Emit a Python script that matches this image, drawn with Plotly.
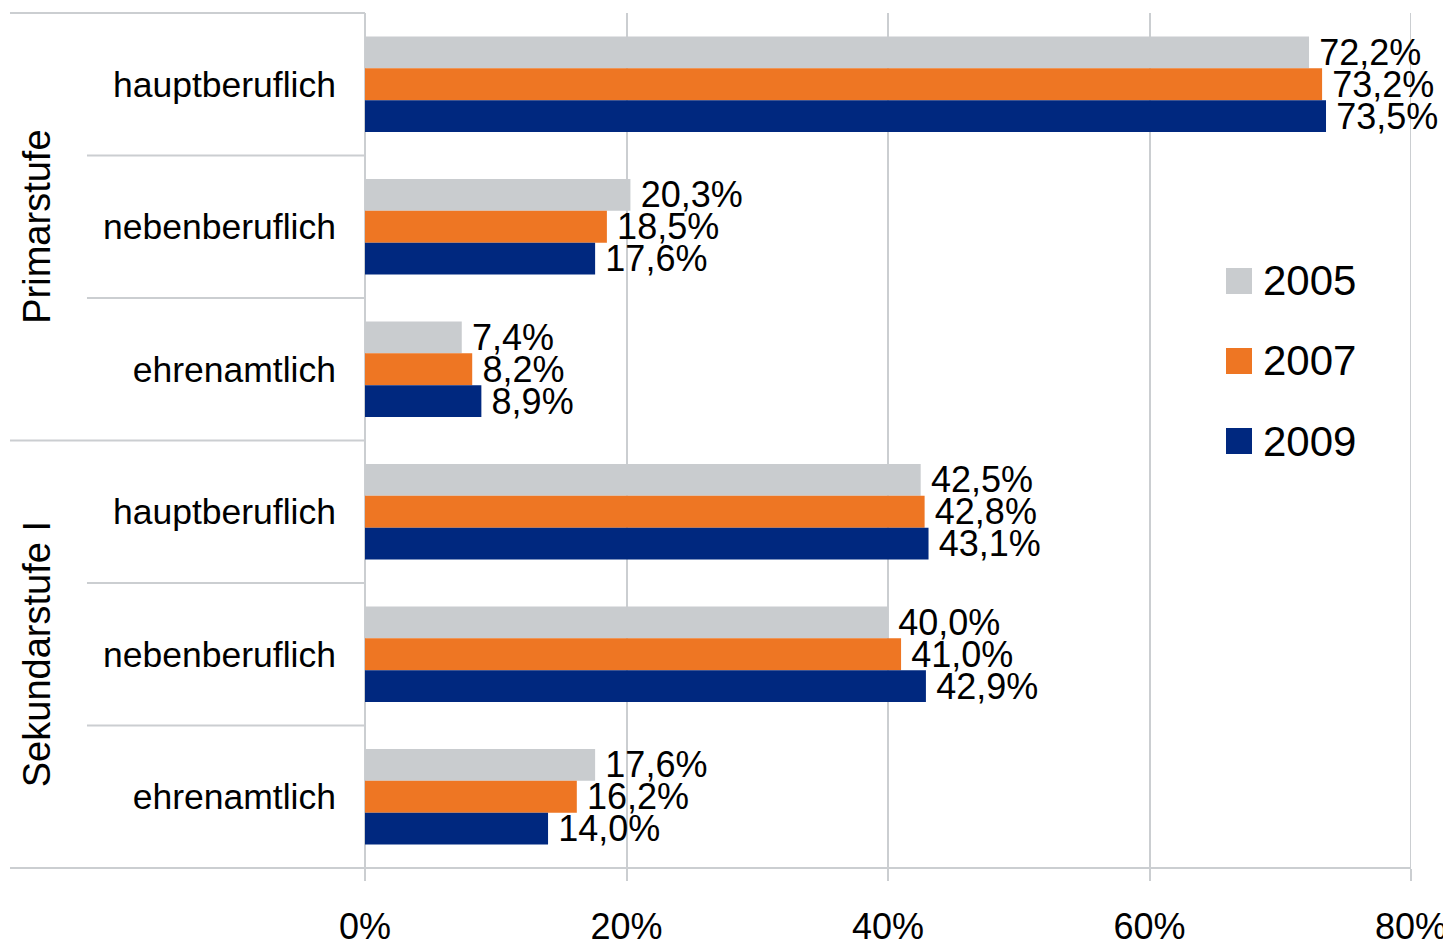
import plotly.graph_objects as go

groups = ["Primarstufe", "Sekundarstufe I"]
subcats = ["hauptberuflich", "nebenberuflich", "ehrenamtlich"]
series_names = ["2005", "2007", "2009"]
colors = ["#C9CCCF", "#EE7623", "#00287F"]
v2005 = [72.2, 20.3, 7.4, 42.5, 40.0, 17.6]
v2007 = [73.2, 18.5, 8.2, 42.8, 41.0, 16.2]
v2009 = [73.5, 17.6, 8.9, 43.1, 42.9, 14.0]
x_ticks = [0, 20, 40, 60, 80]

cat_ids = [f"{g}|{s}" for g in groups for s in subcats]
cat_labels = [s for g in groups for s in subcats]
values = [v2005, v2007, v2009]

FONT = "Liberation Sans, Arial, sans-serif"
GRID = "#CBCED1"

fig = go.Figure()
for name, col, vals in zip(series_names, colors, values):
    fig.add_trace(go.Bar(
        y=cat_ids, x=vals, name=name, orientation="h",
        marker=dict(color=col, line=dict(width=0)),
        text=["\u2009" + f"{v:.1f}".replace(".", ",") + "%" for v in vals],
        textposition="outside", constraintext="none", cliponaxis=False,
        textfont=dict(family=FONT, size=36, color="black"),
        showlegend=False,
    ))

shapes = []
n = len(cat_ids)
LX = -0.3394  # left end of long divider lines
SX = -0.2658  # left end of short divider lines
shapes.append(dict(type="line", xref="paper", yref="paper", x0=LX, x1=0, y0=1, y1=1,
                   line=dict(color=GRID, width=2)))
for k in range(1, n):
    x0 = LX if k % len(subcats) == 0 else SX
    shapes.append(dict(type="line", xref="paper", yref="paper", x0=x0, x1=0,
                       y0=1 - k / n, y1=1 - k / n, line=dict(color=GRID, width=2)))
shapes.append(dict(type="line", xref="paper", yref="paper", x0=LX, x1=1, y0=0, y1=0,
                   line=dict(color=GRID, width=2)))
# gridline at the right end of the value axis
shapes.append(dict(type="line", xref="x", yref="paper", x0=x_ticks[-1], x1=x_ticks[-1], y0=0, y1=1,
                   line=dict(color=GRID, width=2), layer="below"))

annotations = []
for i, g in enumerate(groups):
    yc = 1 - (i * len(subcats) + len(subcats) / 2) / n
    annotations.append(dict(text=g, xref="paper", yref="paper", x=-0.3136, y=yc,
                            textangle=-90, showarrow=False, xanchor="center", yanchor="middle",
                            font=dict(family=FONT, size=38, color="black")))

# legend (manual, large square swatches)
leg_x0 = (1226 - 365) / 1046
leg_x1 = (1252 - 365) / 1046
leg_ys = [281, 361, 441]
for name, col, ypx in zip(series_names, colors, leg_ys):
    yc = 1 - (ypx - 13) / 855
    h = 13 / 855
    shapes.append(dict(type="rect", xref="paper", yref="paper", x0=leg_x0, x1=leg_x1,
                       y0=yc - h, y1=yc + h, fillcolor=col, line=dict(width=0)))
    annotations.append(dict(text=name, xref="paper", yref="paper", x=(1261 - 365) / 1046, y=yc,
                            xanchor="left", yanchor="middle", showarrow=False,
                            font=dict(family=FONT, size=42, color="black")))

fig.update_layout(
    barmode="group", bargap=0.33, bargroupgap=0,
    width=1443, height=934,
    margin=dict(l=357, r=40, t=5, b=74, autoexpand=False),
    plot_bgcolor="white", paper_bgcolor="white",
    font=dict(family=FONT, color="black"),
    shapes=shapes, annotations=annotations,
    xaxis=dict(range=[0, 80], tickvals=x_ticks, ticktext=[f"{t}%" for t in x_ticks],
               showgrid=True, gridcolor=GRID, gridwidth=2,
               zeroline=True, zerolinecolor=GRID, zerolinewidth=2,
               ticks="outside", ticklen=12, tickcolor=GRID, tickwidth=2,
               ticklabelstandoff=15, automargin=False,
               tickfont=dict(family=FONT, size=36, color="black"), showline=False, fixedrange=True),
    yaxis=dict(categoryorder="array", categoryarray=cat_ids, autorange="reversed",
               tickvals=cat_ids, ticktext=cat_labels, showgrid=False, zeroline=False,
               ticks="", ticklabelstandoff=28, showline=False, automargin=False,
               tickfont=dict(family=FONT, size=35.5, color="black"), fixedrange=True),
)

fig.write_html("out.html")
